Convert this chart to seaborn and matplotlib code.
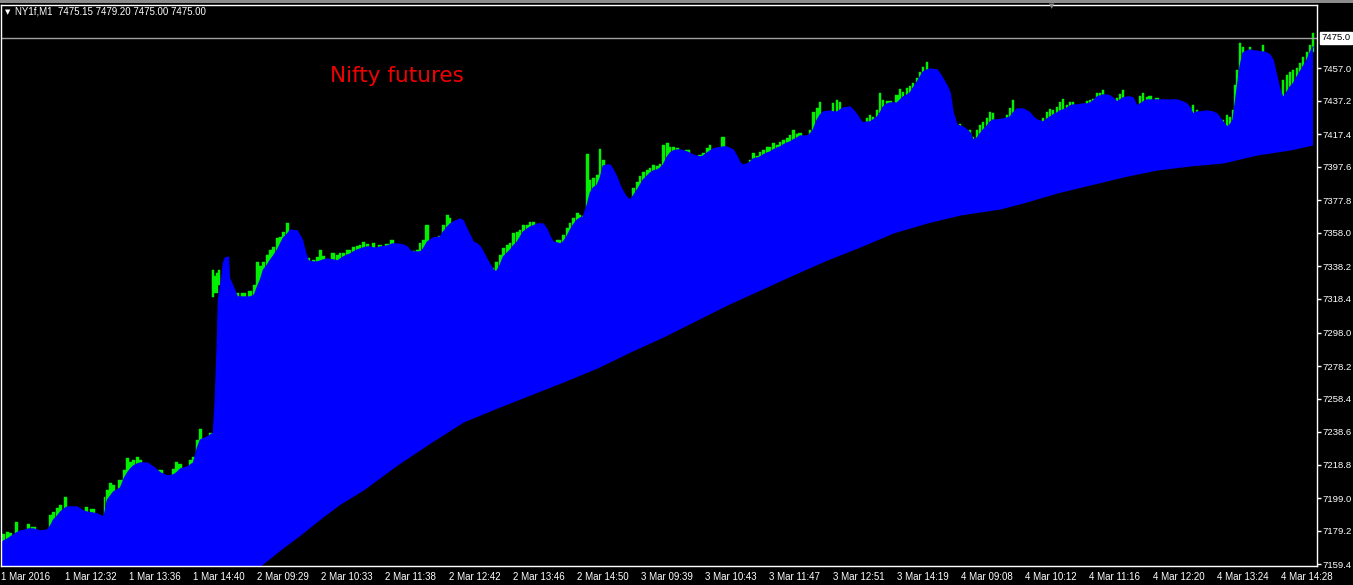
import numpy as np
import matplotlib
matplotlib.use("Agg")
import matplotlib.pyplot as plt
import seaborn as sns

# bar index (one bar = one minute)
bar_x = [
    0, 3, 7, 10, 16, 20, 25, 28, 33, 40,
    47, 50, 53, 57, 60, 65, 67, 77, 83, 86,
    92, 97, 103, 104, 107, 110, 113, 120, 124, 127,
    130, 133, 137, 140, 147, 153, 160, 167, 173, 176,
    180, 187, 190, 193, 197, 200, 207, 210, 213, 215,
    217, 218, 220, 222, 223, 225, 228, 229, 233, 237,
    243, 250, 254, 257, 260, 263, 267, 270, 273, 277,
    280, 283, 287, 290, 297, 302, 305, 308, 313, 317,
    320, 323, 327, 333, 337, 340, 343, 347, 350, 353,
    357, 360, 363, 367, 370, 373, 377, 380, 387, 392,
    397, 403, 407, 410, 413, 417, 420, 423, 427, 433,
    440, 443, 447, 450, 453, 460, 463, 467, 470, 473,
    477, 480, 483, 487, 490, 493, 496, 500, 503, 507,
    510, 513, 517, 520, 523, 527, 530, 533, 537, 543,
    547, 550, 553, 557, 560, 563, 567, 570, 573, 577,
    580, 583, 587, 590, 593, 597, 600, 603, 607, 610,
    613, 617, 620, 623, 627, 630, 633, 637, 640, 643,
    647, 650, 653, 657, 660, 663, 667, 670, 673, 677,
    680, 687, 693, 700, 703, 707, 710, 713, 717, 723,
    727, 733, 737, 740, 743, 747, 750, 753, 757, 760,
    763, 767, 770, 773, 777, 780, 783, 787, 790, 793,
    797, 800, 807, 810, 813, 817, 820, 823, 830, 833,
    837, 840, 843, 850, 853, 857, 860, 863, 867, 870,
    873, 877, 880, 883, 887, 890, 897, 900, 903, 907,
    910, 913, 917, 920, 923, 927, 930, 937, 940, 943,
    947, 950, 953, 957, 960, 963, 967, 970, 973, 977,
    980, 983, 987, 990, 993, 997, 1003, 1007, 1010, 1013,
    1017, 1023, 1027, 1030, 1033, 1037, 1040, 1043, 1047, 1050,
    1053, 1057, 1060, 1063, 1067, 1070, 1073, 1077, 1083, 1087,
    1090, 1093, 1097, 1100, 1103, 1107, 1110, 1113, 1117, 1120,
    1123, 1127, 1130, 1133, 1137, 1140, 1143, 1147, 1150, 1157,
    1163, 1170, 1177, 1183, 1187, 1190, 1193, 1197, 1200, 1207,
    1213, 1217, 1220, 1223, 1227, 1230, 1233, 1235, 1237, 1240,
    1243, 1247, 1250, 1253, 1257, 1260, 1263, 1267, 1270, 1273,
    1277, 1280, 1283, 1287, 1290, 1293, 1297, 1300, 1303, 1307,
    1310, 1313,
]

# fast average (top of the blue band)
ma_fast = [
    7170.8, 7173.2, 7174.4, 7175.6, 7178.0, 7179.2, 7179.8, 7180.4, 7180.4, 7179.2,
    7179.8, 7182.2, 7185.8, 7188.2, 7190.6, 7193.0, 7193.6, 7193.6, 7191.2, 7190.6,
    7190.0, 7189.4, 7187.6, 7188.8, 7197.8, 7200.2, 7202.6, 7205.0, 7211.0, 7214.0,
    7216.4, 7218.2, 7219.4, 7220.0, 7220.0, 7217.6, 7214.0, 7212.2, 7212.8, 7214.0,
    7216.4, 7217.6, 7218.8, 7220.0, 7229.0, 7233.8, 7235.6, 7236.8, 7238.0, 7259.6,
    7293.8, 7317.8, 7325.6, 7334.0, 7340.0, 7343.0, 7343.6, 7331.0, 7325.6, 7319.6,
    7319.6, 7319.6, 7320.8, 7325.6, 7329.8, 7335.8, 7338.8, 7341.8, 7344.2, 7347.8,
    7351.4, 7355.0, 7357.4, 7359.8, 7359.2, 7353.8, 7346.6, 7341.2, 7340.6, 7340.6,
    7341.2, 7341.8, 7342.4, 7341.8, 7341.2, 7342.4, 7343.6, 7344.8, 7345.4, 7346.6,
    7347.8, 7348.4, 7349.0, 7349.6, 7349.6, 7349.0, 7349.0, 7349.6, 7350.2, 7351.4,
    7351.4, 7350.8, 7349.6, 7347.2, 7346.6, 7346.6, 7346.6, 7348.4, 7352.6, 7355.0,
    7355.6, 7358.6, 7361.6, 7363.4, 7364.6, 7366.4, 7365.2, 7359.8, 7356.2, 7352.6,
    7351.4, 7349.6, 7346.6, 7341.8, 7338.8, 7335.8, 7334.6, 7338.8, 7343.6, 7346.0,
    7347.8, 7350.2, 7352.6, 7355.6, 7358.6, 7360.4, 7361.6, 7362.2, 7363.4, 7363.4,
    7359.8, 7355.6, 7352.6, 7352.0, 7351.4, 7352.6, 7356.2, 7359.8, 7362.8, 7365.8,
    7367.0, 7367.6, 7374.8, 7382.0, 7385.0, 7386.8, 7391.0, 7398.2, 7398.8, 7398.8,
    7395.8, 7391.0, 7386.2, 7382.6, 7379.0, 7377.8, 7380.2, 7383.8, 7386.8, 7389.8,
    7392.2, 7394.0, 7395.2, 7395.8, 7397.0, 7398.8, 7403.6, 7406.0, 7407.2, 7407.8,
    7407.8, 7406.6, 7404.8, 7403.6, 7404.2, 7406.0, 7407.2, 7408.4, 7409.0, 7409.6,
    7409.6, 7407.8, 7403.6, 7400.0, 7398.8, 7399.4, 7400.6, 7402.4, 7403.0, 7403.6,
    7404.8, 7406.0, 7406.6, 7407.8, 7409.0, 7409.6, 7410.8, 7412.0, 7412.6, 7413.8,
    7415.0, 7416.2, 7416.2, 7417.4, 7419.8, 7425.8, 7428.8, 7430.6, 7431.2, 7430.6,
    7430.6, 7431.8, 7433.0, 7433.6, 7431.8, 7428.8, 7425.8, 7424.0, 7424.6, 7424.6,
    7425.8, 7427.6, 7430.0, 7433.6, 7435.4, 7436.0, 7436.0, 7437.8, 7439.6, 7440.8,
    7442.0, 7445.0, 7448.6, 7451.6, 7454.6, 7455.8, 7456.4, 7455.8, 7453.4, 7450.4,
    7446.2, 7442.0, 7430.0, 7422.8, 7422.2, 7421.6, 7419.8, 7418.0, 7413.8, 7415.0,
    7417.4, 7419.8, 7422.2, 7424.6, 7425.8, 7425.8, 7426.4, 7427.0, 7427.6, 7430.0,
    7432.4, 7432.4, 7431.2, 7430.0, 7427.6, 7425.8, 7425.2, 7424.6, 7426.4, 7427.6,
    7428.8, 7430.0, 7431.2, 7431.8, 7433.0, 7434.2, 7434.8, 7434.8, 7435.4, 7435.4,
    7436.0, 7437.2, 7439.6, 7440.2, 7440.8, 7440.8, 7440.2, 7439.0, 7436.6, 7437.8,
    7439.0, 7439.6, 7439.6, 7439.0, 7434.2, 7435.4, 7436.6, 7437.8, 7437.8, 7437.8,
    7437.8, 7437.8, 7437.8, 7436.6, 7435.4, 7433.0, 7429.4, 7430.6, 7430.6, 7431.2,
    7430.6, 7429.4, 7427.0, 7424.6, 7421.6, 7422.8, 7425.8, 7434.8, 7443.8, 7457.6,
    7466.0, 7467.2, 7467.8, 7467.2, 7467.2, 7466.6, 7466.6, 7466.0, 7464.8, 7461.8,
    7451.6, 7443.8, 7439.0, 7442.6, 7445.6, 7447.4, 7451.6, 7454.6, 7457.6, 7461.8,
    7466.0, 7469.6,
]

# bar highs where the price pokes above the blue band (None = hidden)
bar_high = [
    None, 7177.4, 7178.6, 7178.0, 7184.6, None, None, 7183.4, 7181.6, None,
    None, 7188.8, 7190.6, 7193.0, 7194.8, 7199.6, None, None, None, 7193.6,
    7192.4, None, None, 7199.6, 7203.8, 7208.0, 7206.8, 7209.8, 7215.8, 7223.0,
    7220.6, 7221.8, 7223.6, 7221.8, None, None, 7215.8, None, 7216.4, 7220.6,
    7219.4, None, 7221.8, 7223.6, 7233.8, 7240.4, None, 7238.0, None, None,
    None, None, None, None, None, None, None, None, None, 7322.0,
    7322.0, 7323.2, 7326.8, 7340.6, 7338.2, 7340.6, 7344.8, 7347.8, 7349.6, 7355.0,
    7355.6, 7358.6, 7364.0, None, None, None, None, 7343.0, 7341.8, 7343.6,
    7347.8, 7344.2, None, 7346.0, 7344.8, 7346.0, 7346.0, 7347.8, 7347.8, 7349.6,
    7350.2, 7350.8, 7352.6, 7351.4, None, 7352.0, None, 7350.8, 7351.4, 7353.8,
    None, None, None, None, 7347.2, 7347.8, 7352.0, 7353.8, 7362.8, None,
    7356.2, 7362.8, 7368.8, 7367.0, None, None, None, None, None, None,
    None, None, None, None, None, 7337.0, 7340.6, 7344.8, 7349.0, 7350.8,
    7352.0, 7358.0, 7358.6, 7359.8, 7362.8, 7362.8, 7364.6, 7364.6, None, None,
    None, None, None, 7353.8, 7353.8, 7356.8, 7361.0, 7364.0, 7367.0, 7370.0,
    7368.8, 7368.2, 7405.4, 7389.8, 7391.0, 7392.8, 7408.4, 7401.8, None, None,
    None, None, None, None, None, None, 7385.0, 7388.6, 7392.2, 7394.6,
    7395.8, 7397.0, 7398.8, 7398.2, 7399.4, 7410.8, 7412.0, 7409.6, 7409.6, 7409.0,
    None, 7407.8, None, 7404.8, 7406.0, 7409.0, 7410.8, None, None, 7415.6,
    None, None, None, None, None, None, 7401.8, 7406.0, 7404.2, 7406.6,
    7407.8, 7409.6, 7409.6, 7412.0, 7410.8, 7412.6, 7413.8, 7415.0, 7416.8, 7419.8,
    7417.4, 7418.0, None, 7419.8, 7430.6, 7433.0, 7436.6, None, None, 7436.0,
    7437.8, 7436.6, None, None, None, None, None, None, 7427.0, 7428.8,
    7427.6, 7431.8, 7442.0, 7437.8, 7437.2, 7437.2, 7440.8, 7444.4, 7442.6, 7445.0,
    7446.2, 7448.0, 7451.0, 7454.6, 7457.6, 7460.6, None, None, None, None,
    None, None, None, None, 7423.4, None, None, 7419.8, 7415.6, 7419.8,
    7422.8, 7424.6, 7427.0, 7430.6, 7430.0, None, None, 7428.8, 7433.0, 7437.8,
    None, None, None, None, None, None, None, 7427.0, 7430.6, 7432.4,
    7431.8, 7433.6, 7436.6, 7438.4, 7434.8, 7436.6, 7436.6, None, None, 7437.2,
    7437.8, 7438.4, 7442.0, 7442.0, 7443.8, None, None, None, 7439.0, 7441.4,
    7443.8, None, None, None, None, 7440.2, 7442.0, 7439.6, 7440.2, 7439.0,
    None, None, None, None, None, None, 7434.8, 7431.8, None, None,
    None, None, None, 7425.8, 7428.8, 7427.6, 7431.8, 7446.8, 7455.8, 7472.0,
    7469.6, None, 7469.6, None, None, None, 7470.8, None, None, None,
    None, None, 7449.8, 7452.8, 7454.6, 7455.8, 7457.0, 7460.0, 7463.6, 7466.6,
    7470.8, 7478.0,
]

# bars of the 1 Mar 14:40 gap that float above the band
gap_x = [213, 215, 217, 219]
gap_high = [7335.8, 7332.2, 7334.0, 7335.8]
gap_low = [7319.6, 7322.0, 7322.0, 7326.8]

# slow average (bottom of the blue band)
slow_x = [250, 260, 280, 300, 320, 340, 363, 397, 430, 463,
          497, 530, 563, 597, 630, 663, 693, 727, 760, 793,
          827, 860, 893, 927, 960, 1000, 1023, 1057, 1090, 1123,
          1157, 1190, 1223, 1257, 1290, 1313]
ma_slow = [7154.0, 7158.2, 7167.8, 7176.8, 7186.4, 7195.4, 7203.8, 7218.8, 7232.0, 7244.6,
           7253.0, 7260.8, 7268.6, 7277.0, 7286.6, 7295.6, 7304.6, 7314.8, 7323.8, 7332.8,
           7341.8, 7349.6, 7358.0, 7364.0, 7368.8, 7372.4, 7376.0, 7382.0, 7386.8, 7391.6,
           7395.8, 7398.2, 7400.0, 7404.8, 7407.8, 7410.8]

time_pos = [1 + 64 * k for k in range(21)]
time_labels = ["1 Mar 2016", "1 Mar 12:32", "1 Mar 13:36", "1 Mar 14:40", "2 Mar 09:29",
               "2 Mar 10:33", "2 Mar 11:38", "2 Mar 12:42", "2 Mar 13:46", "2 Mar 14:50",
               "3 Mar 09:39", "3 Mar 10:43", "3 Mar 11:47", "3 Mar 12:51", "3 Mar 14:19",
               "4 Mar 09:08", "4 Mar 10:12", "4 Mar 11:16", "4 Mar 12:20", "4 Mar 13:24",
               "4 Mar 14:28"]
price_ticks = [7457.0, 7437.2, 7417.4, 7397.6, 7377.8, 7358.0, 7338.2, 7318.4,
               7298.0, 7278.2, 7258.4, 7238.6, 7218.8, 7199.0, 7179.2, 7159.4]
last_price = 7475.00
header = "NY1f,M1  7475.15 7479.20 7475.00 7475.00"

BLUE = "#0000ff"
GREEN = "#00f000"
Y_BOTTOM, Y_TOP = 7158.2, 7495.1

sns.set_theme(style="dark")
plt.rcParams["font.family"] = ["Liberation Sans", "DejaVu Sans"]

fig = plt.figure(figsize=(13.53, 5.85), dpi=100, facecolor="black")
ax = fig.add_axes([1 / 1353, 19 / 585, 1316 / 1353, 561.5 / 585])
ax.set_facecolor("black")

x = np.array(bar_x, dtype=float)
fast = np.array(ma_fast, dtype=float)
high = np.array(bar_high, dtype=float)
shown = ~np.isnan(high)
widths = np.clip(np.gradient(x) * 0.75, 1.5, None)

# green price bars, the blue band is drawn over their lower part
bar_base = fast[shown] - 3
ax.bar(x[shown], high[shown] - bar_base, bottom=bar_base,
       width=widths[shown], color=GREEN, edgecolor=GREEN, linewidth=0.3, zorder=1)
ax.bar(gap_x, np.array(gap_high) - np.array(gap_low), bottom=gap_low,
       width=2.0, color=GREEN, edgecolor=GREEN, linewidth=0.3, zorder=1)

ax.fill_between(x, Y_BOTTOM - 50, fast, color=BLUE, linewidth=0, zorder=2)
sns.lineplot(x=bar_x, y=ma_fast, color=BLUE, linewidth=1, ax=ax, zorder=2)
ax.fill_between(slow_x, Y_BOTTOM - 50, ma_slow, color="black", linewidth=0, zorder=3)

ax.axhline(last_price, color="#a0a0a0", linewidth=1, zorder=4)

ax.set_xlim(0.5, 1317)
ax.set_ylim(Y_BOTTOM, Y_TOP)
ax.set_xlabel("")
ax.set_ylabel("")

ax.set_xticks(time_pos, time_labels)
for lbl in ax.get_xticklabels():
    lbl.set_horizontalalignment("left")
ax.yaxis.tick_right()
ax.set_yticks(price_ticks, [f"{p:.1f}" for p in price_ticks])
ax.tick_params(axis="both", colors="white", labelcolor="white", labelsize=7,
               length=3, width=1, direction="out", pad=1.5)
ax.tick_params(axis="y", labelsize=6.8, pad=1.2)
ax.grid(False)
for side in ["left", "right", "top", "bottom"]:
    ax.spines[side].set_visible(True)
    ax.spines[side].set_color("white")
    ax.spines[side].set_linewidth(1)
    ax.spines[side].set_zorder(5)

# current price box on the price scale
ax.annotate(f"{last_price:.1f}", xy=(1, last_price), xycoords=("axes fraction", "data"),
            xytext=(4, 0), textcoords="offset pixels", ha="left", va="center",
            fontsize=6.8, color="black", annotation_clip=False,
            bbox=dict(boxstyle="square,pad=0.15", fc="white", ec="white"))

# window strip and header
fig.add_artist(plt.Rectangle((0, 582 / 585), 1, 3 / 585, transform=fig.transFigure,
                             color="#8c8c8c", linewidth=0))
fig.text(5 / 1353, 1 - 12 / 585, "\u25bc", color="white", fontsize=5,
         family="DejaVu Sans", va="center", ha="left")
fig.text(15 / 1353, 1 - 12 / 585, header, color="white", fontsize=7, va="center", ha="left")
fig.text(1052 / 1353, 1 - 6 / 585, "\u25bc", color="#8c8c8c", fontsize=5,
         family="DejaVu Sans", va="center", ha="center")
fig.text(330 / 1353, 1 - 82 / 585, "Nifty futures", color="#f00000", fontsize=15.5,
         family="DejaVu Sans", va="baseline", ha="left")

fig.savefig("out.png", dpi=100, facecolor="black")
